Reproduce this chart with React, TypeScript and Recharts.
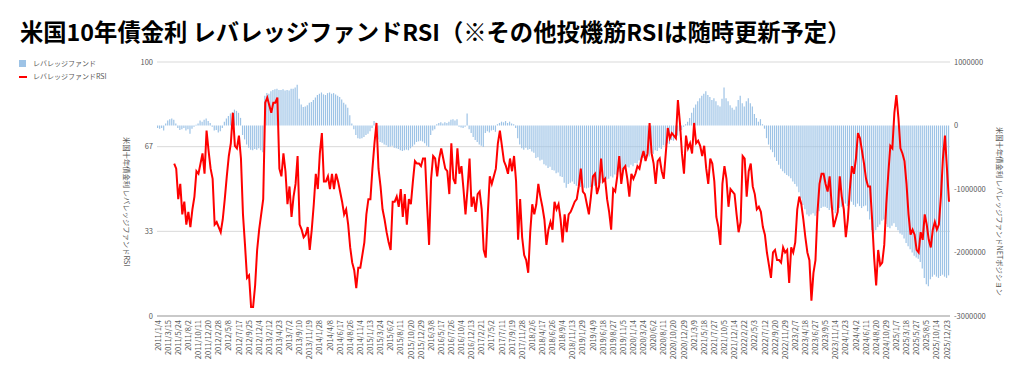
import { Bar, CartesianGrid, ComposedChart, Line, XAxis, YAxis } from "recharts";

// 10週ごとの目盛りラベル（データは2週ごと）
const TICK_LABELS = [
  "2011/1/4", "2011/3/15", "2011/5/24", "2011/8/2", "2011/10/11", "2011/12/20",
  "2012/2/28", "2012/5/8", "2012/7/17", "2012/9/25", "2012/12/4",
  "2013/2/12", "2013/4/23", "2013/7/2", "2013/9/10", "2013/11/19",
  "2014/1/28", "2014/4/8", "2014/6/17", "2014/8/26", "2014/11/4",
  "2015/1/13", "2015/3/24", "2015/6/2", "2015/8/11", "2015/10/20", "2015/12/29",
  "2016/3/8", "2016/5/17", "2016/7/26", "2016/10/4", "2016/12/13",
  "2017/2/21", "2017/5/2", "2017/7/11", "2017/9/19", "2017/11/28",
  "2018/2/6", "2018/4/17", "2018/6/26", "2018/9/4", "2018/11/13",
  "2019/1/29", "2019/4/9", "2019/6/18", "2019/8/27", "2019/11/5",
  "2020/1/14", "2020/3/24", "2020/6/2", "2020/8/11", "2020/10/20", "2020/12/29",
  "2021/3/9", "2021/5/18", "2021/7/27", "2021/10/5", "2021/12/14",
  "2022/2/22", "2022/5/3", "2022/7/12", "2022/9/20", "2022/11/29",
  "2023/2/7", "2023/4/18", "2023/6/27", "2023/9/5", "2023/11/14",
  "2024/1/23", "2024/4/2", "2024/6/11", "2024/8/20", "2024/10/29",
  "2025/1/7", "2025/3/18", "2025/5/27", "2025/8/5", "2025/10/14", "2025/12/23",
];

// レバレッジファンドRSI（2週ごと）
const RSI: (number | null)[] = [
  null, null, null, null, null, null, null, null, 60, 58,
  46, 52, 40, 45, 36, 41, 35, 42, 47, 57,
  56, 60, 64, 56, 73, 65, 58, 54, 36, 37,
  35, 33, 38, 46, 55, 63, 68, 80, 67, 66,
  71, 62, 40, 28, 15, 16, 3.5, 3.5, 12, 26,
  34, 40, 46, 84, 86, 83, 80, 84, 84, 86,
  58, 55, 64, 57, 44, 51, 39, 47, 52, 63,
  36, 34, 31, 32, 35, 26, 34, 44, 56, 50,
  64, 72, 53, 53, 55, 50, 56, 50, 56, 53,
  49, 45, 40, 42, 36, 27, 21, 18, 11, 19,
  19, 24, 29, 40, 46, 46, 58, 68, 76, 58,
  51, 42, 38, 33, 29, 26, 45, 45, 47, 43,
  50, 39, 48, 36, 46, 44, 53, 61, 60, 60,
  59, 62, 62, 44, 28, 54, 63, 62, 55, 62,
  66, 62, 58, 57, 48, 68, 54, 52, 66, 56,
  59, 50, 40, 50, 62, 43, 47, 41, 48, 49,
  42, 26, 23, 40, 55, 52, 55, 58, 68, 73,
  67, 61, 59, 56, 62, 57, 63, 53, 30, 46,
  31, 24, 22, 17, 33, 44, 40, 44, 52, 47,
  43, 38, 28, 34, 37, 34, 45, 42, 44, 38,
  29, 40, 33, 40, 41, 43, 45, 46, 51, 58,
  49, 48, 44, 40, 47, 55, 56, 48, 51, 62,
  53, 54, 46, 41, 34, 50, 49, 55, 63, 52,
  58, 59, 54, 47, 56, 54, 56, 59, 58, 62,
  65, 61, 64, 76, 64, 60, 52, 61, 62, 57,
  54, 64, 74, 70, 72, 71, 70, 85, 76, 64,
  56, 71, 66, 68, 64, 76, 68, 69, 67, 63,
  67, 58, 52, 62, 60, 53, 39, 35, 28, 52,
  59, 54, 43, 50, 49, 48, 40, 33, 37, 63,
  62, 47, 57, 60, 51, 48, 42, 43, 41, 35,
  32, 25, 20, 15, 25, 26, 22, 22, 21, 27,
  25, 26, 13, 27, 25, 29, 42, 47, 44, 38,
  31, 25, 22, 6, 17, 22, 41, 52, 56, 56,
  52, 49, 55, 44, 35, 38, 41, 55, 47, 42,
  31, 38, 50, 59, 56, 62, 72, 70, 65, 60,
  54, 51, 51, 38, 23, 12, 26, 20, 21, 28,
  44, 56, 67, 66, 80, 87, 78, 66, 64, 61,
  52, 40, 32, 34, 32, 26, 25, 33, 30, 40,
  36, 30, 27, 34, 37, 34, 36, 47, 62, 71,
  58, 45,
];

// レバレッジファンド NETポジション（千枚単位、2週ごと）
const FUND = [
  -40, -50, -40, -80, 30, 80, 100, 110, 90, 30,
  -40, -70, -60, -40, -80, -60, -130, -50, -20, 10,
  30, 80, 60, 90, 110, 70, 40, -20, -80, -70,
  -110, -90, -40, 60, 110, 150, 190, 210, 250, 230,
  200, 120, -150, -220, -300, -350, -380, -390, -370, -380,
  -360, -390, -420, 470, 510, 500, 540, 560, 570, 580,
  560, 560, 570, 550, 560, 550, 580, 580, 600, 640,
  420, 330, 290, 300, 320, 360, 370, 400, 440, 480,
  500, 520, 490, 480, 510, 520, 500, 510, 490, 470,
  450, 410, 360, 330, 280, 160, 30, -60, -150, -200,
  -210, -200, -180, -150, -130, -90, -40, 70, -120, -220,
  -260, -270, -300, -310, -340, -330, -320, -350, -360, -370,
  -390, -400, -390, -380, -390, -360, -330, -300, -260, -250,
  -240, -250, -280, -320, -340, -150, -80, -60, 20, 40,
  50, 30, 50, 40, 60, 90, 100, 80, 100, -20,
  -30, -40, -20, 190, -60, -120, -180, -230, -260, -300,
  -320, -340, -120, -90, -110, -80, -70, -100, 20, 40,
  60, 50, 70, 40, 60, 30, 20, -40, -200, -300,
  -360, -380, -350, -380, -370, -410, -430, -510, -500, -550,
  -540, -610, -630, -670, -650, -700, -710, -750, -740, -800,
  -810, -900, -980, -920, -900, -880, -920, -950, -960, -970,
  -960, -980, -990, -980, -970, -960, -950, -940, -920, -910,
  -870, -890, -850, -840, -800, -820, -770, -780, -730, -720,
  -690, -700, -650, -660, -620, -640, -590, -600, -550, -560,
  -510, -520, -470, -490, -430, -450, -390, -400, -350, -370,
  -310, -320, -280, -290, -230, -240, -170, -160, -90, -70,
  -20, 20, 60, 120, 200, 280, 330, 380, 430, 470,
  500, 540, 480, 450, 400, 430, 380, 320, 300, 420,
  600, 430, 380, 320, 280, 250, 300, 400, 470, 350,
  300, 380, 430, 350, 300, 180, 120, 60, 100, 20,
  -50, -200, -300, -380, -420, -500, -560, -620, -680, -720,
  -750, -780, -800, -830, -880, -920, -960, -1050, -1150, -1250,
  -1320, -1400, -1430, -1400, -1380, -1420, -1380, -1350, -1300, -1280,
  -1280, -1300, -1330, -1300, -1330, -1380, -1350, -1300, -1280, -1250,
  -1230, -1270, -1250, -1200, -1250, -1280, -1230, -1270, -1300, -1270,
  -1260, -1350, -1480, -1650, -1700, -1650, -1600, -1560, -1500, -1480,
  -1550, -1600, -1620, -1580, -1540, -1600, -1650, -1700, -1720, -1780,
  -1850, -1900, -1950, -2000, -2050, -2080, -2100, -2150, -2250, -2400,
  -2500, -2530, -2420, -2380, -2350, -2380, -2400, -2370, -2350, -2380,
  -2400, -2360,
];

const FONT = '"Noto Sans CJK JP", "Noto Sans", sans-serif';
const GRAY = "#595959";
const BAR_BLUE = "#9dc3e6";

const rows = RSI.map((rsi, k) => ({ k, rsi, fund: FUND[k] }));

function DateTick({ x, y, payload }: any) {
  return (
    <text
      x={x}
      y={y}
      transform={`rotate(-90 ${x} ${y})`}
      textAnchor="end"
      dy="0.35em"
      fontSize={7.5}
      fill={GRAY}
      fontFamily={FONT}
    >
      {TICK_LABELS[payload.value / 5]}
    </text>
  );
}

const axisTitle = {
  position: "absolute" as const,
  writingMode: "vertical-rl" as const,
  textOrientation: "sideways" as const,
  fontSize: 7.3,
  color: GRAY,
  whiteSpace: "nowrap" as const,
  lineHeight: 1,
};

export default function App() {
  return (
    <div
      style={{
        position: "absolute",
        left: 0,
        top: 0,
        width: 1024,
        height: 379,
        background: "#fff",
        fontFamily: FONT,
        overflow: "hidden",
      }}
    >
      <div style={{ position: "absolute", left: 20, top: 20, fontSize: 23.3, fontWeight: 700, color: "#000", whiteSpace: "nowrap", lineHeight: 1 }}>
        米国10年債金利 レバレッジファンドRSI（※その他投機筋RSIは随時更新予定）
      </div>

      <div style={{ position: "absolute", left: 19, top: 57, fontSize: 7, color: GRAY, lineHeight: "13px" }}>
        <div style={{ display: "flex", alignItems: "center" }}>
          <span style={{ display: "inline-block", width: 7, height: 7, background: BAR_BLUE, marginRight: 7 }} />
          レバレッジファンド
        </div>
        <div style={{ display: "flex", alignItems: "center" }}>
          <span style={{ display: "inline-block", width: 8, height: 2, background: "#ff0000", marginRight: 6 }} />
          レバレッジファンドRSI
        </div>
      </div>

      <div style={{ ...axisTitle, left: 123, top: 137 }}>米国十年債金利 レバレッジファンドRSI</div>
      <div style={{ ...axisTitle, left: 996, top: 127 }}>米国十年債金利 レバレッジファンドNETポジション</div>

      <ComposedChart width={1024} height={379} data={rows} margin={{ top: 62, right: 0, bottom: 0, left: 0 }}>
        <CartesianGrid yAxisId="left" vertical={false} stroke="#d9d9d9" />
        <XAxis
          dataKey="k"
          interval={4}
          tick={<DateTick />}
          tickLine={false}
          tickSize={0}
          tickMargin={4}
          axisLine={{ stroke: "#a6a6a6" }}
          height={63}
        />
        <YAxis
          yAxisId="left"
          domain={[0, 100]}
          ticks={[0, 100 / 3, 200 / 3, 100]}
          tickFormatter={(v: number) => String(Math.round(v))}
          width={157}
          axisLine={false}
          tickLine={false}
          tickSize={0}
          tickMargin={4}
          tick={{ fontSize: 7.5, fill: GRAY, fontFamily: FONT }}
        />
        <YAxis
          yAxisId="right"
          orientation="right"
          domain={[-3000, 1000]}
          ticks={[-3000, -2000, -1000, 0, 1000]}
          tickFormatter={(v: number) => String(v * 1000)}
          width={74}
          axisLine={false}
          tickLine={false}
          tickSize={0}
          tickMargin={4}
          tick={{ fontSize: 7.5, fill: GRAY, fontFamily: FONT }}
        />
        <Bar yAxisId="right" dataKey="fund" fill={BAR_BLUE} barSize={1.2} isAnimationActive={false} />
        <Line
          yAxisId="left"
          type="linear"
          dataKey="rsi"
          stroke="#ff0000"
          strokeWidth={2}
          dot={false}
          activeDot={false}
          isAnimationActive={false}
        />
      </ComposedChart>
    </div>
  );
}
